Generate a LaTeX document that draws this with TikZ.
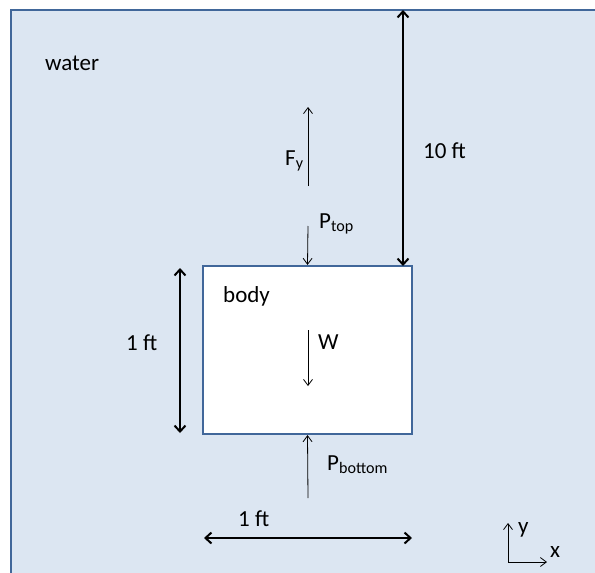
\documentclass[tikz,border=0pt]{standalone}
\usepackage{fontspec}
\setmainfont{Carlito}
\usetikzlibrary{arrows.meta}
\definecolor{waterblue}{HTML}{DCE6F2}
\definecolor{edgeblue}{HTML}{41679A}

\begin{document}
\begin{tikzpicture}[x=1pt, y=-1pt, font=\fontsize{23}{27}\selectfont,
    force/.style={-{Straight Barb[length=6pt, width=9pt]}, line width=0.8pt},
    dim/.style={{Straight Barb[length=6pt, width=11pt]}-{Straight Barb[length=6pt, width=11pt]}, line width=2pt},
    lbl/.style={anchor=base west, inner sep=0pt}]
    \clip (0,0) rectangle (595,573);

    % Draw water
    \fill[waterblue] (11,10) rectangle (600,580);
    \draw[edgeblue, line width=2pt] (11,580) -- (11,10) -- (600,10);

    % Draw body
    \node[draw=edgeblue, fill=white, line width=2.2pt, minimum width=209pt, minimum height=168pt, inner sep=0pt] (body) at (307.5,350) {};

    % Coordinates
    \coordinate (surface) at (403,10);
    \coordinate (bodytop) at (403,266);
    \coordinate (fybase) at (308,186);
    \coordinate (fytip) at (308,107);
    \coordinate (ptopbase) at (308,226);
    \coordinate (wbase) at (308,330);
    \coordinate (wtip) at (308,386);
    \coordinate (pbotbase) at (308,498);
    \coordinate (vdimtop) at (180,268);
    \coordinate (vdimbot) at (180,433);
    \coordinate (hdimleft) at (204,538);
    \coordinate (hdimright) at (412,538);
    \coordinate (origin) at (508,562);
    \coordinate (yaxis) at (508,523);
    \coordinate (xaxis) at (547,562);

    % Draw forces
    \draw[force] (fybase) -- (fytip);
    \draw[force] (ptopbase) -- (body.north);
    \draw[force] (wbase) -- (wtip);
    \draw[force] (pbotbase) -- (body.south);

    % Draw dimensions
    \draw[dim] (surface) -- (bodytop);
    \draw[dim] (vdimtop) -- (vdimbot);
    \draw[dim] (hdimleft) -- (hdimright);

    % Draw axes
    \draw[force] (origin) -- (yaxis);
    \draw[force] (origin) -- (xaxis);

    % Labels
    \node[lbl] (water) at (45,70) {water};
    \node[lbl] (fy) at (285,165) {F\textsubscript{y}};
    \node[lbl] (ptop) at (319,228) {P\textsubscript{top}};
    \node[lbl] (depth) at (423,158) {10 ft};
    \node[lbl] (bodylbl) at (223,302) {body};
    \node[lbl] (weight) at (318,349) {W};
    \node[lbl] (height) at (126,350) {1 ft};
    \node[lbl] (pbot) at (327,470) {P\textsubscript{bottom}};
    \node[lbl] (width) at (238,526) {1 ft};
    \node[lbl] (ylbl) at (518,533) {y};
    \node[lbl] (xlbl) at (550,557) {x};
\end{tikzpicture}
\end{document}
